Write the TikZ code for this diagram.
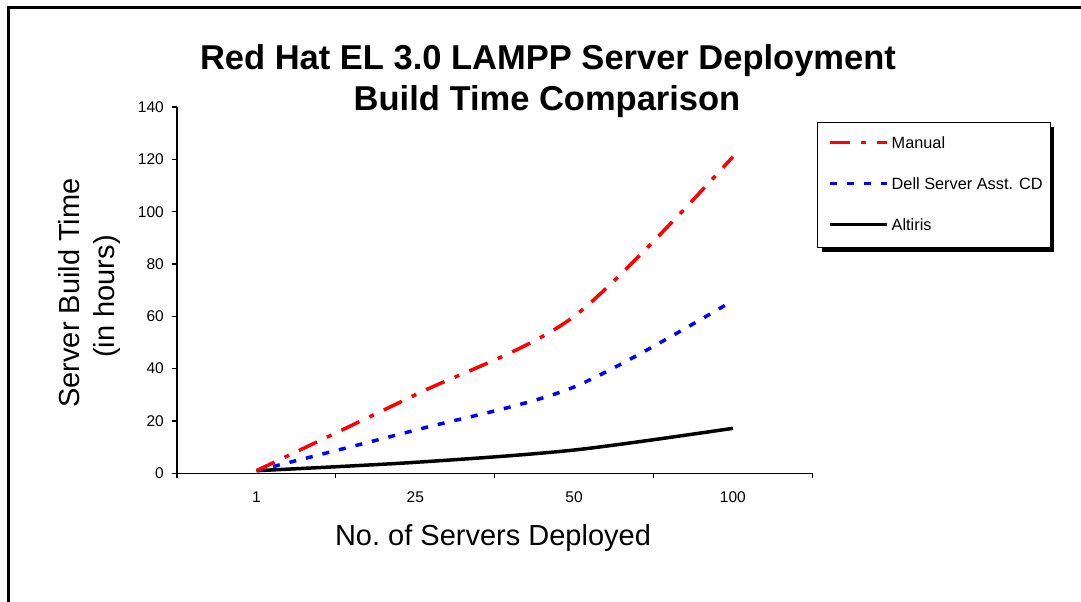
\documentclass[tikz,border=0pt]{standalone}
\usepackage{fontspec}
\setmainfont{Liberation Sans}
\usetikzlibrary{shadows}

\begin{document}
\begin{tikzpicture}[x=1pt,y=-1pt,
  ticklab/.style={inner sep=0pt,font=\fontsize{15.5}{18}\selectfont},
  axtitle/.style={inner sep=0pt,anchor=base,font=\fontsize{29}{34}\selectfont},
  ttl/.style={inner sep=0pt,anchor=base,font=\fontsize{34.5}{40}\selectfont\bfseries},
  legtxt/.style={inner sep=0pt,anchor=west,font=\fontsize{16.3}{18}\selectfont},
  manual/.style={red,line width=3.5pt,dash pattern=on 20pt off 11pt on 5pt off 11pt},
  dell/.style={blue,line width=3.5pt,dash pattern=on 7pt off 10pt},
  altiris/.style={black,line width=3.5pt}]
\useasboundingbox (0,0) rectangle (1081,602);
\draw[line width=2.5pt] (8.5,602) -- (8.5,7.5) -- (1081,7.5);% chart frame
%%%%%%%%%%%%%%%%%%%%%%%%%%%%%%
\node[ttl] (title1) at (548,69.5) {Red Hat EL 3.0 LAMPP Server Deployment};
\node[ttl] (title2) at (547,110) {Build Time Comparison};
\node[axtitle] (xtitle) at (493,545.7) {No.\ of Servers Deployed};
\node[axtitle,rotate=90] (ytitle1) at (79.3,293) {Server Build Time};
\node[axtitle,rotate=90] (ytitle2) at (114,296.5) {(in hours)};
%%%%%%%%%%%%%%%%%%%%%%%%%%%%%%
\coordinate (O) at (177,473.3);
\coordinate (ytop) at (177,106.7);
\coordinate (xend) at (812.3,473.3);
\draw[line width=1.2pt] (ytop) -- (O) -- (xend);
\foreach \v in {0,20,...,140}{
  \draw[line width=1.2pt] (172,{473.3-2.616*\v}) -- ++(5,0);
  \node[ticklab,anchor=east] (yl\v) at (164,{473.3-2.616*\v}) {\v};
}
\foreach \i in {0,...,4}
  \draw[line width=1.2pt] ({177+158.8*\i},473.3) -- ++(0,5);
\foreach \c [count=\i] in {1,25,50,100}
  \node[ticklab] (xl\i) at ({97.7+158.8*\i},496.7) {\c};
%%%%%%%%%%%%%%%%%%%%%%%%%%%%%%
\foreach \v [count=\i] in {1,30,60,121}
  \coordinate (m\i) at ({97.7+158.8*\i},{473.3-2.616*\v});
\foreach \v [count=\i] in {1,16.5,33,66}
  \coordinate (d\i) at ({97.7+158.8*\i},{473.3-2.616*\v});
\foreach \v [count=\i] in {1,4.2,8.9,17.2}
  \coordinate (a\i) at ({97.7+158.8*\i},{473.3-2.616*\v});
\draw[altiris] plot[smooth] coordinates {(a1) (a2) (a3) (a4)};
\draw[dell] plot[smooth] coordinates {(d1) (d2) (d3) (d4)};
\draw[manual] plot[smooth] coordinates {(m1) (m2) (m3) (m4)};
%%%%%%%%%%%%%%%%%%%%%%%%%%%%%%
\node[draw,line width=0.8pt,fill=white,minimum width=232.7pt,minimum height=125pt,inner sep=0pt,
  general shadow={fill=black,shadow xshift=4.5pt,shadow yshift=-4.5pt}] (leg) at (933.6,185.2) {};
\node[legtxt] (lgman) at (891.5,142.7) {Manual};
\node[legtxt] (lgdell) at (891.5,183.3) {Dell Server Asst. CD};
\node[legtxt] (lgalt) at (891.5,224.3) {Altiris};
\draw[manual] ([xshift=-61.5pt]lgman.west) -- ([xshift=-4.5pt]lgman.west);
\draw[dell] ([xshift=-61.5pt]lgdell.west) -- ([xshift=-4.5pt]lgdell.west);
\draw[altiris] ([xshift=-61.5pt]lgalt.west) -- ([xshift=-4.5pt]lgalt.west);
\end{tikzpicture}
\end{document}
